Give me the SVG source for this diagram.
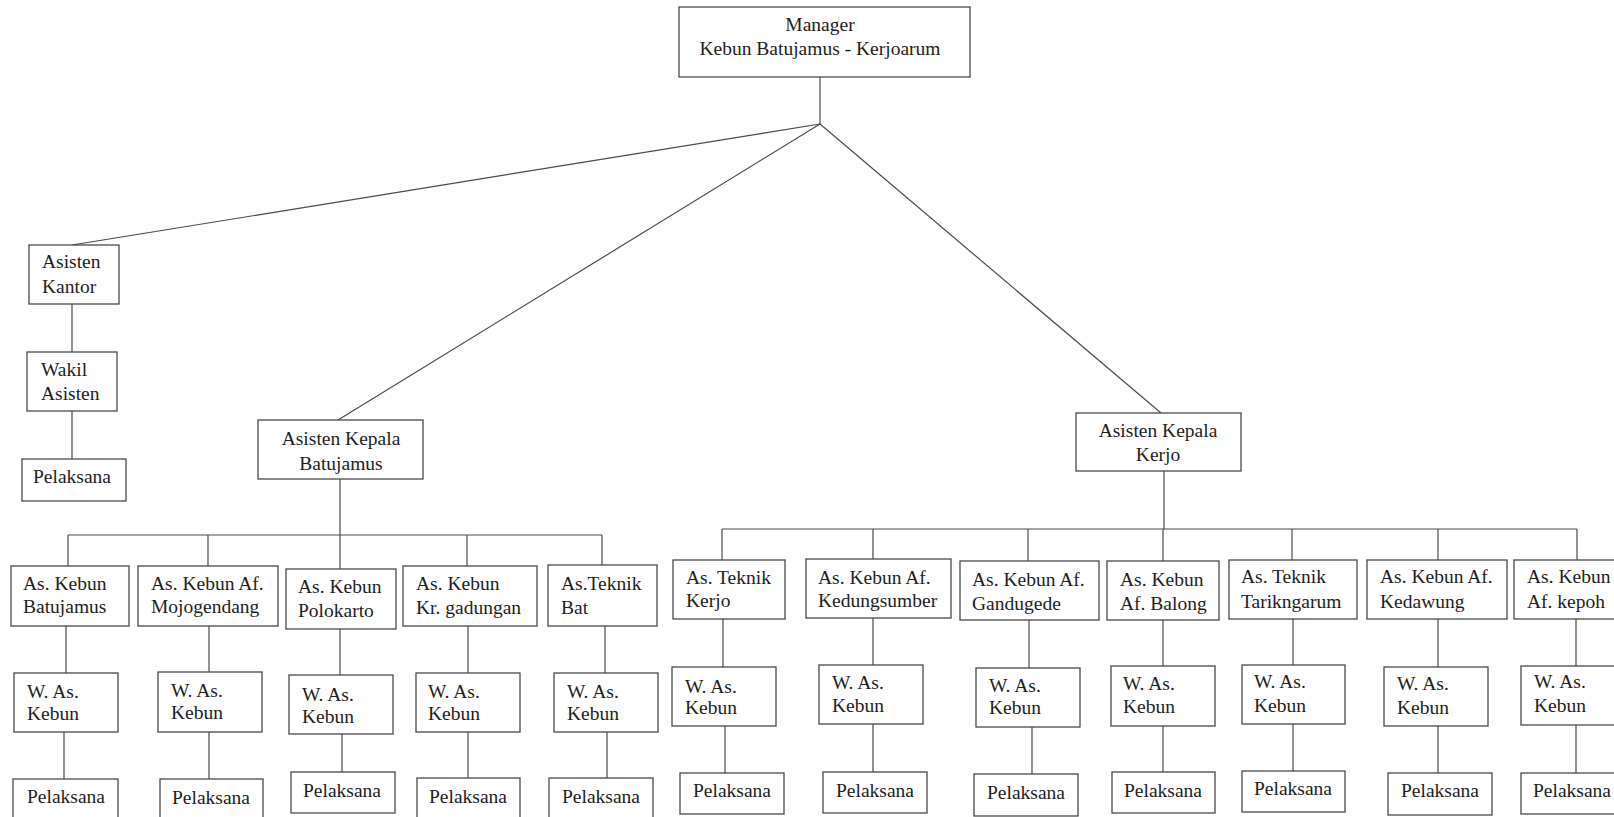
<svg xmlns="http://www.w3.org/2000/svg" width="1614" height="817" viewBox="0 0 1614 817">
<style>
rect{fill:#fff;stroke:#4a4a4a;stroke-width:1.3}
text{font-family:"Liberation Serif","Times New Roman",serif;font-size:19.5px;fill:#1e1e1e}
.c{text-anchor:middle}
#connectors line{stroke:#4a4a4a;stroke-width:1.2}
</style>
<rect x="0" y="0" width="1614" height="817" style="fill:#fff;stroke:none"/>
<g id="connectors">
<line x1="820" y1="77" x2="820" y2="124"/>
<line x1="820" y1="124" x2="72" y2="245"/>
<line x1="820" y1="124" x2="338" y2="420"/>
<line x1="820" y1="124" x2="1161" y2="413"/>
<line x1="72" y1="304" x2="72" y2="352"/>
<line x1="72" y1="411" x2="72" y2="459"/>
<line x1="340" y1="479" x2="340" y2="535"/>
<line x1="68" y1="535" x2="602" y2="535"/>
<line x1="68" y1="535" x2="68" y2="566"/>
<line x1="208" y1="535" x2="208" y2="566"/>
<line x1="340" y1="535" x2="340" y2="569"/>
<line x1="467" y1="535" x2="467" y2="566"/>
<line x1="602" y1="535" x2="602" y2="565"/>
<line x1="66" y1="626" x2="66" y2="673"/>
<line x1="64" y1="732" x2="64" y2="779"/>
<line x1="209" y1="626" x2="209" y2="672"/>
<line x1="209" y1="732" x2="209" y2="779"/>
<line x1="340" y1="629" x2="340" y2="675"/>
<line x1="342" y1="734" x2="342" y2="772"/>
<line x1="468" y1="626" x2="468" y2="673"/>
<line x1="468" y1="732" x2="468" y2="778"/>
<line x1="605" y1="626" x2="605" y2="673"/>
<line x1="607" y1="732" x2="607" y2="778"/>
<line x1="1164" y1="471" x2="1164" y2="529"/>
<line x1="722" y1="529" x2="1577" y2="529"/>
<line x1="722" y1="529" x2="722" y2="560"/>
<line x1="873" y1="529" x2="873" y2="559"/>
<line x1="1028" y1="529" x2="1028" y2="561"/>
<line x1="1163" y1="529" x2="1163" y2="561"/>
<line x1="1292" y1="529" x2="1292" y2="560"/>
<line x1="1438" y1="529" x2="1438" y2="560"/>
<line x1="1577" y1="529" x2="1577" y2="560"/>
<line x1="723" y1="619" x2="723" y2="667"/>
<line x1="725" y1="726" x2="725" y2="773"/>
<line x1="873" y1="618" x2="873" y2="665"/>
<line x1="873" y1="724" x2="873" y2="772"/>
<line x1="1029" y1="620" x2="1029" y2="668"/>
<line x1="1032" y1="727" x2="1032" y2="774"/>
<line x1="1163" y1="620" x2="1163" y2="666"/>
<line x1="1163" y1="726" x2="1163" y2="772"/>
<line x1="1293" y1="619" x2="1293" y2="665"/>
<line x1="1293" y1="724" x2="1293" y2="771"/>
<line x1="1438" y1="619" x2="1438" y2="667"/>
<line x1="1438" y1="726" x2="1438" y2="773"/>
<line x1="1576" y1="619" x2="1576" y2="666"/>
<line x1="1576" y1="725" x2="1576" y2="773"/>
</g>
<g id="manager"><rect x="679" y="7" width="291" height="70"/><text class="c" x="820" y="31">Manager</text><text class="c" x="820" y="55">Kebun Batujamus - Kerjoarum</text></g>
<g id="asisten-kantor"><rect x="29" y="245" width="90" height="59"/><text x="42" y="268">Asisten</text><text x="42" y="293">Kantor</text></g>
<g id="wakil-asisten"><rect x="27" y="352" width="90" height="59"/><text x="41" y="376">Wakil</text><text x="41" y="400">Asisten</text></g>
<g id="pelaksana-kantor"><rect x="22" y="459" width="104" height="42"/><text x="33" y="483">Pelaksana</text></g>
<g id="askep-batujamus"><rect x="258" y="420" width="165" height="59"/><text class="c" x="341" y="445">Asisten Kepala</text><text class="c" x="341" y="470">Batujamus</text></g>
<g id="askep-kerjo"><rect x="1076" y="413" width="165" height="58"/><text class="c" x="1158" y="437">Asisten Kepala</text><text class="c" x="1158" y="461">Kerjo</text></g>

<g id="as-batujamus"><rect x="11" y="566" width="118" height="60"/><text x="23" y="590">As. Kebun</text><text x="23" y="613">Batujamus</text></g>
<g id="w-batujamus"><rect x="14" y="673" width="104" height="59"/><text x="27" y="698">W. As.</text><text x="27" y="720">Kebun</text></g>
<g id="p-batujamus"><rect x="13" y="779" width="105" height="44"/><text x="27" y="803">Pelaksana</text></g>

<g id="as-mojogendang"><rect x="138" y="566" width="140" height="60"/><text x="151" y="590">As. Kebun Af.</text><text x="151" y="613">Mojogendang</text></g>
<g id="w-mojogendang"><rect x="158" y="672" width="104" height="60"/><text x="171" y="697">W. As.</text><text x="171" y="719">Kebun</text></g>
<g id="p-mojogendang"><rect x="160" y="779" width="103" height="44"/><text x="172" y="804">Pelaksana</text></g>

<g id="as-polokarto"><rect x="286" y="569" width="110" height="60"/><text x="298" y="593">As. Kebun</text><text x="298" y="617">Polokarto</text></g>
<g id="w-polokarto"><rect x="289" y="675" width="104" height="59"/><text x="302" y="701">W. As.</text><text x="302" y="723">Kebun</text></g>
<g id="p-polokarto"><rect x="291" y="772" width="104" height="41"/><text x="303" y="797">Pelaksana</text></g>

<g id="as-krgadungan"><rect x="403" y="566" width="134" height="60"/><text x="416" y="590">As. Kebun</text><text x="416" y="614">Kr. gadungan</text></g>
<g id="w-krgadungan"><rect x="416" y="673" width="104" height="59"/><text x="428" y="698">W. As.</text><text x="428" y="720">Kebun</text></g>
<g id="p-krgadungan"><rect x="417" y="778" width="103" height="45"/><text x="429" y="803">Pelaksana</text></g>

<g id="as-teknik-bat"><rect x="548" y="565" width="109" height="61"/><text x="561" y="590">As.Teknik</text><text x="561" y="614">Bat</text></g>
<g id="w-teknik-bat"><rect x="554" y="673" width="104" height="59"/><text x="567" y="698">W. As.</text><text x="567" y="720">Kebun</text></g>
<g id="p-teknik-bat"><rect x="549" y="778" width="104" height="45"/><text x="562" y="803">Pelaksana</text></g>

<g id="as-teknik-kerjo"><rect x="673" y="560" width="112" height="59"/><text x="686" y="584">As. Teknik</text><text x="686" y="607">Kerjo</text></g>
<g id="w-teknik-kerjo"><rect x="672" y="667" width="104" height="59"/><text x="685" y="693">W. As.</text><text x="685" y="714">Kebun</text></g>
<g id="p-teknik-kerjo"><rect x="680" y="773" width="104" height="41"/><text x="693" y="797">Pelaksana</text></g>

<g id="as-kedungsumber"><rect x="806" y="559" width="145" height="59"/><text x="818" y="584">As. Kebun Af.</text><text x="818" y="607">Kedungsumber</text></g>
<g id="w-kedungsumber"><rect x="819" y="665" width="104" height="59"/><text x="832" y="689">W. As.</text><text x="832" y="712">Kebun</text></g>
<g id="p-kedungsumber"><rect x="823" y="772" width="104" height="41"/><text x="836" y="797">Pelaksana</text></g>

<g id="as-gandugede"><rect x="960" y="561" width="139" height="59"/><text x="972" y="586">As. Kebun Af.</text><text x="972" y="610">Gandugede</text></g>
<g id="w-gandugede"><rect x="976" y="668" width="104" height="59"/><text x="989" y="692">W. As.</text><text x="989" y="714">Kebun</text></g>
<g id="p-gandugede"><rect x="974" y="774" width="104" height="42"/><text x="987" y="799">Pelaksana</text></g>

<g id="as-balong"><rect x="1107" y="561" width="112" height="59"/><text x="1120" y="586">As. Kebun</text><text x="1120" y="610">Af. Balong</text></g>
<g id="w-balong"><rect x="1111" y="666" width="104" height="60"/><text x="1123" y="690">W. As.</text><text x="1123" y="713">Kebun</text></g>
<g id="p-balong"><rect x="1112" y="772" width="103" height="41"/><text x="1124" y="797">Pelaksana</text></g>

<g id="as-tarikngarum"><rect x="1229" y="560" width="128" height="59"/><text x="1241" y="583">As. Teknik</text><text x="1241" y="608">Tarikngarum</text></g>
<g id="w-tarikngarum"><rect x="1242" y="665" width="103" height="59"/><text x="1254" y="688">W. As.</text><text x="1254" y="712">Kebun</text></g>
<g id="p-tarikngarum"><rect x="1242" y="771" width="103" height="41"/><text x="1254" y="795">Pelaksana</text></g>

<g id="as-kedawung"><rect x="1367" y="560" width="140" height="59"/><text x="1380" y="583">As. Kebun Af.</text><text x="1380" y="608">Kedawung</text></g>
<g id="w-kedawung"><rect x="1384" y="667" width="104" height="59"/><text x="1397" y="690">W. As.</text><text x="1397" y="714">Kebun</text></g>
<g id="p-kedawung"><rect x="1388" y="773" width="104" height="42"/><text x="1401" y="797">Pelaksana</text></g>

<g id="as-kepoh"><rect x="1514" y="560" width="112" height="59"/><text x="1527" y="583">As. Kebun</text><text x="1527" y="608">Af. kepoh</text></g>
<g id="w-kepoh"><rect x="1521" y="666" width="105" height="59"/><text x="1534" y="688">W. As.</text><text x="1534" y="712">Kebun</text></g>
<g id="p-kepoh"><rect x="1521" y="773" width="105" height="41"/><text x="1533" y="797">Pelaksana</text></g>
</svg>
